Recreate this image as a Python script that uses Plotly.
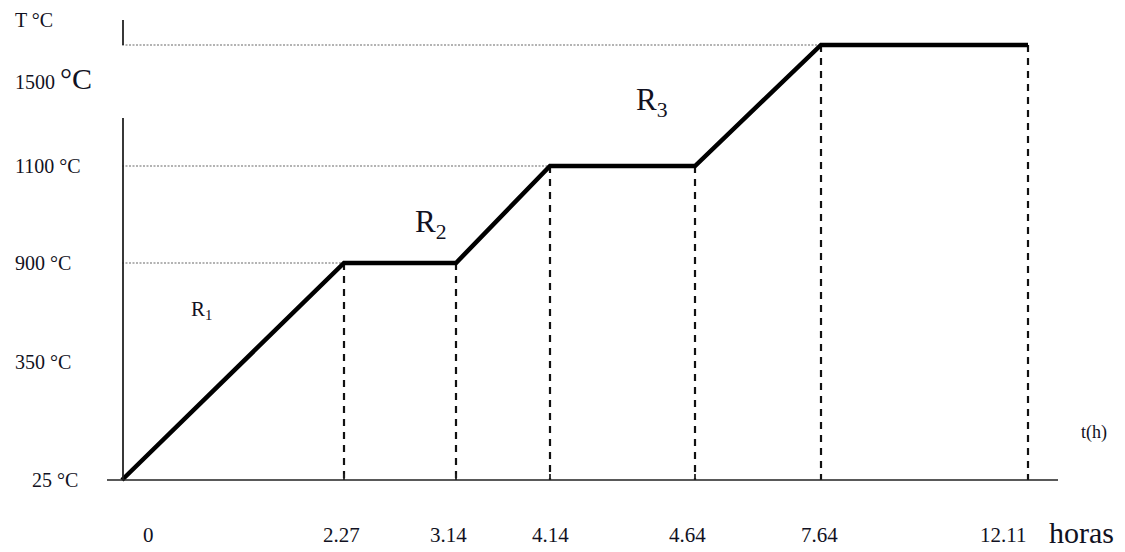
import numpy as np
import plotly.graph_objects as go

# ---- data ----
profile_hours = [0, 2.27, 3.14, 4.14, 4.64, 7.64, 12.11]
profile_temps = [25, 900, 900, 1100, 1100, 1500, 1500]
hour_labels = ["0", "2.27", "3.14", "4.14", "4.64", "7.64", "12.11"]
temp_levels = [25, 350, 900, 1100, 1500]
temp_labels = ["25 °C", "350 °C", "900 °C", "1100 °C", "1500 <span style='font-size:30px'>°C</span>"]
segment_labels = ["R<sub>1</sub>", "R<sub>2</sub>", "R<sub>3</sub>"]

# ---- schematic (non-linear) axis scales: value -> drawing position ----
hour_scale_pos = [122, 344, 456, 550, 695, 821, 1028]
temp_scale_pos = [480, 362, 263, 166, 45]

def xs(h):
    return np.interp(np.asarray(h, dtype=float), profile_hours, hour_scale_pos)

def ys(t):
    return np.interp(np.asarray(t, dtype=float), temp_levels, temp_scale_pos)

FONT = "Liberation Serif, Times New Roman, serif"
TXT = "#111122"

fig = go.Figure()

# dotted horizontal guide lines (from axis to the first point reaching each level)
gx, gy = [], []
for T in [900, 1100, 1500]:
    h_first = next(h for h, t in zip(profile_hours, profile_temps) if t == T)
    gx += [float(xs(0)), float(xs(h_first)), None]
    gy += [float(ys(T)), float(ys(T)), None]
fig.add_trace(go.Scatter(x=gx, y=gy, mode="lines",
                         line=dict(color="#9a9a9a", width=1.5, dash="2px,1.5px"),
                         hoverinfo="skip", showlegend=False))

# dashed vertical lines from each point down to the time axis
vx, vy = [], []
for h, t in zip(profile_hours[1:], profile_temps[1:]):
    vx += [float(xs(h)), float(xs(h)), None]
    vy += [float(ys(t)), float(ys(25)), None]
fig.add_trace(go.Scatter(x=vx, y=vy, mode="lines",
                         line=dict(color="#111111", width=2.2, dash="7px,6px"),
                         hoverinfo="skip", showlegend=False))

# axes (drawn as shapes; the temperature axis has a break)
y_axis_x = float(xs(0)) + 1
fig.add_shape(type="line", x0=107, x1=1058, y0=float(ys(25)), y1=float(ys(25)),
              line=dict(color="#222", width=1.6))
fig.add_shape(type="line", x0=y_axis_x, x1=y_axis_x, y0=118, y1=float(ys(25)),
              line=dict(color="#222", width=1.8))
fig.add_shape(type="line", x0=y_axis_x, x1=y_axis_x, y0=20, y1=float(ys(1500)),
              line=dict(color="#222", width=1.8))
# small ticks on the time axis
for h in profile_hours[1:5]:
    fig.add_shape(type="line", x0=float(xs(h)), x1=float(xs(h)),
                  y0=float(ys(25)) - 6, y1=float(ys(25)),
                  line=dict(color="#222", width=1.8))

# heating profile
fig.add_trace(go.Scatter(x=xs(profile_hours), y=ys(profile_temps), mode="lines",
                         line=dict(color="black", width=4.5),
                         hoverinfo="skip", showlegend=False))

# ---- text ----
def note(text, x, y, size, xanchor="center"):
    fig.add_annotation(x=x, y=y, text=text, showarrow=False, xanchor=xanchor,
                       yanchor="middle", font=dict(family=FONT, size=size, color=TXT))

# x tick labels
x_label_offsets = [26, -3, -8, 0, -8, -2, -25]
for h, lab, off in zip(profile_hours, hour_labels, x_label_offsets):
    note(lab, float(xs(h)) + off, 535, 21)
note("horas", 1081, 532, 30)
note("t(h)", 1094, 432, 18)

# y tick labels
y_label_left = [30, 13, 13, 13, 13]
y_label_shift = [0, 0, 0, 0, 33]
for T, lab, xl, sh in zip(temp_levels, temp_labels, y_label_left, y_label_shift):
    note(lab, xl, float(ys(T)) + sh, 20, xanchor="left")
note("T °C", 13, 20, 20, xanchor="left")

# segment labels
note(segment_labels[0], 201, 310, 21)
note(segment_labels[1], 431, 224, 31)
note(segment_labels[2], 652, 102, 31)

# the page body adds an 8px margin: shrink the figure and shift the frame so
# that drawing coordinates line up with window pixels
PAGE_MARGIN = 8
fig.update_layout(
    width=1125 - PAGE_MARGIN, height=552 - PAGE_MARGIN,
    margin=dict(l=0, r=0, t=0, b=0),
    paper_bgcolor="white", plot_bgcolor="white",
    xaxis=dict(range=[PAGE_MARGIN, 1125], visible=False, fixedrange=True),
    yaxis=dict(range=[552, PAGE_MARGIN], visible=False, fixedrange=True),
)

fig.write_html("out.html")
